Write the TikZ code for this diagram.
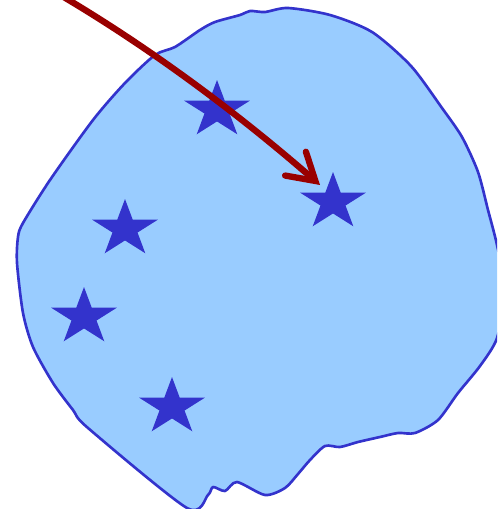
\documentclass[tikz,border=0pt]{standalone}
\usepackage{xcolor}
\usepackage{tikz}
\usetikzlibrary{shapes.geometric, arrows.meta}

\definecolor{blobblue}{RGB}{153,204,255}
\definecolor{edgeblue}{RGB}{51,51,204}
\definecolor{darkred}{RGB}{153,0,0}

\begin{document}
\begin{tikzpicture}[x=0.02cm, y=-0.02cm,
    blob/.style={fill=blobblue, draw=edgeblue, line width=1.5pt, line join=round},
    bluestar/.style={star, star points=5, star point ratio=2.618,
                     fill=edgeblue, draw=none, inner sep=0pt,
                     minimum size=1.2cm, xscale=1.15, transform shape},
    bigarrow/.style={-{Straight Barb[length=15pt, width=18pt, line cap=round]},
                     draw=darkred, line width=3.6pt, line cap=round}
]
\useasboundingbox (0,0) rectangle (497,509);
\clip (0,0) rectangle (497,509);

% the region
\draw [blob] plot [smooth cycle, tension=0.45] coordinates {
    (288,8) (330,15) (372,32) (411,66) (442,108) (462,137) (478,172)
    (488,210) (497,245) (505,290) (497,338) (480,366) (458,393) (438,420)
    (415,433) (398,433) (380,437) (358,442) (340,447) (325,446) (310,460)
    (298,474) (285,488) (265,495) (237,482) (225,491) (213,487) (208,495)
    (187,508) (88,428) (73,410) (53,383) (33,347) (23,313) (17,263)
    (18,237) (23,223) (50,180) (93,120) (125,83) (155,55) (175,47)
    (200,30) (215,22) (240,15) (250,11) (265,12)};

% stars
\node (s1) [bluestar] at (217,110) {};
\node (s2) [bluestar] at (333,202) {};
\node (s3) [bluestar] at (125,229) {};
\node (s4) [bluestar] at (84,317)  {};
\node (s5) [bluestar] at (172,407) {};

% arrow
\coordinate (from) at (62,-4);
\coordinate (tip)  at (320,185);
\draw [bigarrow] (from) .. controls (148,47) and (234,110) .. (tip);
\end{tikzpicture}
\end{document}
